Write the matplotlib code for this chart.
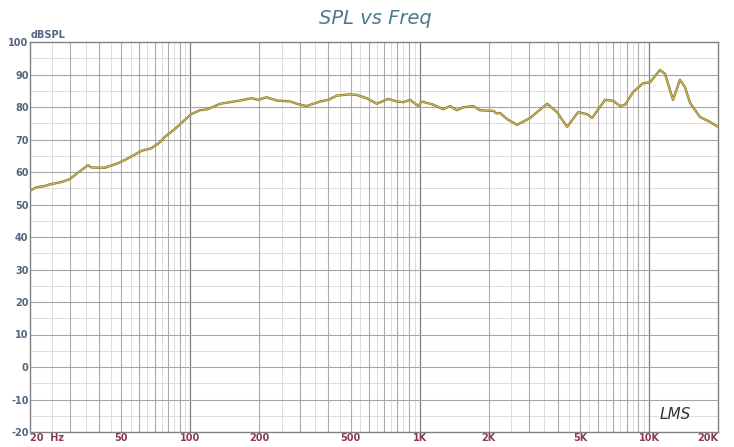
import numpy as np
import matplotlib
matplotlib.use('Agg')
import matplotlib.pyplot as plt

# frecuencia (Hz) y nivel (dB SPL)
freq = [20, 21.3, 23.2, 24.8, 27.4, 29.8, 32.4, 35.8, 37.0, 42.3, 48.4, 53.5,
        61.2, 67.6, 73.6, 77.4, 85.5, 94.5, 101, 110, 119, 135, 165, 185, 198,
        215, 238, 272, 301, 322, 368, 400, 435, 497, 532, 588, 650, 730, 794,
        849, 908, 987, 1021, 1147, 1268, 1356, 1451, 1550, 1714, 1833, 2096,
        2168, 2240, 2404, 2658, 3027, 3600, 3975, 4394, 4910, 5374, 5650,
        6436, 6980, 7480, 7870, 8530, 9420, 10110, 11170, 11750, 12730,
        13650, 14360, 15100, 16700, 18460, 20000]
spl = [54.2, 55.3, 55.7, 56.3, 56.9, 57.8, 59.8, 62.1, 61.4, 61.3, 62.7, 64.2,
       66.5, 67.3, 69.1, 70.8, 73.2, 76.0, 77.8, 79.0, 79.3, 81.0, 82.0, 82.7,
       82.2, 83.0, 82.0, 81.7, 80.7, 80.3, 81.7, 82.2, 83.5, 83.9, 83.7, 82.7,
       81.0, 82.5, 81.7, 81.5, 82.2, 80.3, 81.7, 80.7, 79.3, 80.3, 79.0, 79.9,
       80.3, 79.0, 78.8, 78.0, 78.2, 76.3, 74.5, 76.6, 81.0, 78.4, 73.9, 78.4,
       77.8, 76.6, 82.2, 81.9, 80.3, 80.7, 84.6, 87.3, 87.6, 91.4, 90.2, 82.2,
       88.4, 86.1, 81.3, 76.9, 75.4, 73.9]

xticks = [20, 50, 100, 200, 500, 1000, 2000, 5000, 10000, 20000]
xlabels = ['20  Hz', '50', '100', '200', '500', '1K', '2K', '5K', '10K', '20K']
yticks = list(range(-20, 101, 10))

fig = plt.figure(figsize=(7.34, 4.47), dpi=100)
ax = fig.add_axes([30/734, 15/447, 688/734, 390/447])
ax.set_xscale('log')
ax.set_xlim(20, 20000)
ax.set_ylim(-20, 100)

# rejilla
for dec in [10, 100, 1000, 10000]:
    for m in range(2, 10):
        f = m*dec
        if 20 < f < 20000:
            ax.axvline(f, color='#ababab', lw=0.8, zorder=1)
        fh = (m + 0.5)*dec
        if 20 < fh < 20000:
            ax.axvline(fh, color='#dcdcdc', lw=0.7, zorder=0)
    if 20 < 10*dec < 20000:
        ax.axvline(10*dec, color='#7f7f7f', lw=0.9, zorder=1)
for y in range(-15, 100, 10):
    ax.axhline(y, color='#dcdcdc', lw=0.7, zorder=0)
for y in range(-10, 100, 10):
    ax.axhline(y, color='#a5a5a5', lw=0.8, zorder=1)

ax.plot(freq, spl, color='#857428', lw=1.7, zorder=3)
ax.plot(freq, spl, color='#d4c060', lw=0.7, zorder=4)

for s in ax.spines.values():
    s.set_color('#808080')
    s.set_linewidth(1.0)

ax.set_xticks(xticks)
ax.set_xticklabels(xlabels)
ax.xaxis.set_minor_locator(matplotlib.ticker.NullLocator())
ax.set_yticks(yticks)
ax.set_yticklabels([str(v) for v in yticks])
ax.tick_params(length=0, pad=1)
for lab in ax.get_xticklabels():
    lab.set_color('#8a3a55')
    lab.set_fontsize(7)
    lab.set_fontweight('bold')
ax.get_xticklabels()[0].set_ha('left')
ax.get_xticklabels()[-1].set_ha('right')
for lab in ax.get_yticklabels():
    lab.set_color('#4f6680')
    lab.set_fontsize(7)
    lab.set_fontweight('bold')

fig.text(375/734, 1 - 18/447, 'SPL vs Freq', color='#4a7a8c', fontsize=14,
         style='italic', ha='center', va='center', family='DejaVu Sans')
fig.text(31/734, 1 - 35/447, 'dBSPL', color='#4f6680', fontsize=7,
         fontweight='bold', ha='left', va='center')
ax.text(0.96, 0.045, 'LMS', transform=ax.transAxes, color='#333333',
        fontsize=11, style='italic', ha='right', va='center')

fig.savefig('out.png', dpi=100)
